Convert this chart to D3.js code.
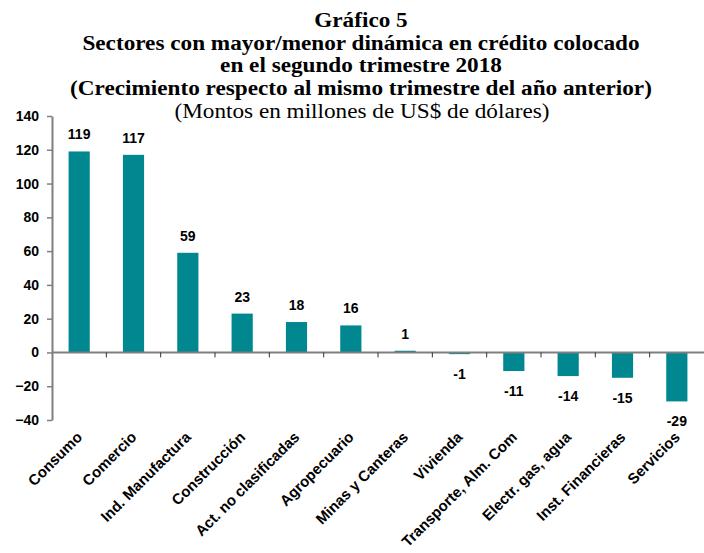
<!DOCTYPE html>
<html>
<head>
<meta charset="utf-8">
<script src="https://cdn.jsdelivr.net/npm/d3@7"></script>
<style>
  body { margin: 0; background: #fff; }
  svg { display: block; }
</style>
</head>
<body>
<div id="chart"></div>
<script>
// data
const sectors = ["Consumo", "Comercio", "Ind. Manufactura", "Construcción", "Act. no clasificadas",
  "Agropecuario", "Minas y Canteras", "Vivienda", "Transporte, Alm. Com", "Electr. gas, agua",
  "Inst. Financieras", "Servicios"];
const growth = [119, 117, 59, 23, 18, 16, 1, -1, -11, -14, -15, -29];
const yTicks = [-40, -20, 0, 20, 40, 60, 80, 100, 120, 140];
const titleLines = ["Gráfico 5", "Sectores con mayor/menor dinámica en crédito colocado",
  "en el segundo trimestre 2018", "(Crecimiento respecto al mismo trimestre del año anterior)"];
const subtitle = "(Montos en millones de US$ de dólares)";

const W = 704, H = 553;
const plot = { left: 52, right: 704, top: 116, bottom: 420 };

const svg = d3.select("#chart")
  .append("svg")
    .attr("width", W)
    .attr("height", H);

// titles (the original serif is wider than Times, so stretch a little)
const titleFont = "'Liberation Serif', 'Times New Roman', serif";
function stretch(sel, k) {
  const len = sel.node().getComputedTextLength();
  sel.attr("textLength", len * k).attr("lengthAdjust", "spacingAndGlyphs");
}
titleLines.forEach(function(t, i) {
  const tt = svg.append("text")
    .attr("x", 361)
    .attr("y", 27 + i * 22.5)
    .attr("text-anchor", "middle")
    .style("font-family", titleFont)
    .style("font-weight", "bold")
    .style("font-size", "20px")
    .text(t);
  stretch(tt, 1.16);
});
const sub = svg.append("text")
  .attr("x", 362)
  .attr("y", 118)
  .attr("text-anchor", "middle")
  .style("font-family", titleFont)
  .style("font-size", "20px")
  .text(subtitle);
stretch(sub, 1.16);

// scales
const x = d3.scaleBand()
  .domain(sectors)
  .range([plot.left, plot.right])
  .paddingInner(0.61)
  .paddingOuter(0.305);

const xTicks = d3.scaleBand()
  .domain(sectors)
  .range([plot.left, plot.right]);

const y = d3.scaleLinear()
  .domain([-40, 140])
  .range([plot.bottom, plot.top]);

const axisColor = "#7f7f7f";
const labelFont = "'Liberation Sans', Arial, sans-serif";

// bars
svg.append("g")
  .selectAll("rect")
  .data(sectors)
  .join("rect")
    .attr("x", d => x(d))
    .attr("width", x.bandwidth())
    .attr("y", (d, i) => y(Math.max(0, growth[i])))
    .attr("height", (d, i) => Math.abs(y(growth[i]) - y(0)))
    .attr("fill", "#01878f");

// y axis
const yAxis = svg.append("g")
  .attr("transform", `translate(${plot.left},0)`)
  .call(d3.axisLeft(y).tickValues(yTicks).tickSize(5).tickSizeOuter(0).tickPadding(8));
yAxis.select(".domain").attr("stroke", axisColor).attr("stroke-width", 2);
yAxis.selectAll(".tick line").attr("stroke", axisColor).attr("stroke-width", 1.5);
yAxis.selectAll(".tick text")
  .style("font-family", labelFont)
  .style("font-weight", "bold")
  .style("font-size", "14px")
  .attr("fill", "#000");

// zero line with ticks between categories
svg.append("line")
  .attr("x1", plot.left).attr("x2", plot.right)
  .attr("y1", y(0)).attr("y2", y(0))
  .attr("stroke", axisColor)
  .attr("stroke-width", 2);
svg.append("g")
  .selectAll("line")
  .data(sectors.slice(1))
  .join("line")
    .attr("x1", d => xTicks(d)).attr("x2", d => xTicks(d))
    .attr("y1", y(0)).attr("y2", y(0) + 5)
    .attr("stroke", "#333")
    .attr("stroke-width", 1);

// value labels
svg.append("g")
  .selectAll("text")
  .data(sectors)
  .join("text")
    .attr("x", d => x(d) + x.bandwidth() / 2)
    .attr("y", (d, i) => growth[i] >= 0 ? y(growth[i]) - 12 : y(growth[i]) + 25)
    .attr("text-anchor", "middle")
    .style("font-family", labelFont)
    .style("font-weight", "bold")
    .style("font-size", "14px")
    .text((d, i) => growth[i]);

// category labels
svg.append("g")
  .selectAll("text")
  .data(sectors)
  .join("text")
    .attr("transform", d => `translate(${x(d) + x.bandwidth() / 2 + 4},${plot.bottom + 18}) rotate(-45)`)
    .attr("text-anchor", "end")
    .style("font-family", labelFont)
    .style("font-weight", "bold")
    .style("font-size", "15px")
    .text(d => d);
</script>
</body>
</html>
